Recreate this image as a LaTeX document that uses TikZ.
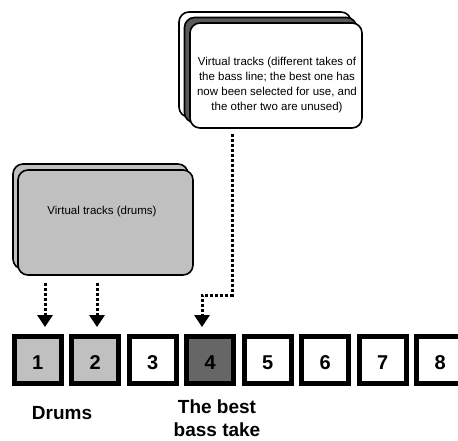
\documentclass[tikz,border=0pt]{standalone}
\usepackage{fontspec}
\setmainfont{Liberation Sans}
\usetikzlibrary{arrows.meta}
\definecolor{lightg}{HTML}{C0C0C0}
\definecolor{darkg}{HTML}{666666}
\definecolor{midg}{HTML}{5A5A5A}
\tikzset{
 cell/.style={draw=black, line width=5pt, minimum size=47pt, inner sep=0pt, font=\fontsize{20}{20}\selectfont\bfseries, text height=20.5pt, text depth=0pt},
 vbox/.style={draw=black, line width=1.6pt, rounded corners=10pt, minimum width=172pt, minimum height=105pt, inner sep=0pt},
 dbox/.style={vbox, fill=lightg, minimum width=175pt},
 dotarrow/.style={line width=3pt, dash pattern=on 3pt off 2pt, -{Triangle[width=15pt,length=12pt]}},
 lbl/.style={font=\fontsize{19}{23}\selectfont\bfseries, align=center, inner sep=0pt},
 vtext/.style={font=\fontsize{11.5}{14.7}\selectfont, align=center, inner sep=0pt}
}
\begin{document}
\begin{tikzpicture}[x=1pt,y=-1pt]
\useasboundingbox[fill=white] (0,0) rectangle (458,440);
% bass take stack
\node[vbox, fill=white] (bassB) at (265,64.5) {};
\node[vbox, fill=midg] (bassM) at (270.5,70) {};
\node[vbox, fill=white] (bassF) at (276,75.5) {};
\node[vtext] (bassT) at (277,85) {Virtual tracks (different takes of\\the bass line; the best one has\\now been selected for use, and\\the other two are unused)};
% drums stack
\node[dbox] (drumsB) at (100.5,216.5) {};
\node[dbox] (drumsF) at (105.5,222.5) {};
\node[vtext] (drumsT) at (102,212) {Virtual tracks (drums)};
% track cells
\node[cell, fill=lightg] (c1) at (37.7,359.5) {1};
\node[cell, fill=lightg] (c2) at (95.2,359.5) {2};
\node[cell, fill=white] (c3) at (152.7,359.5) {3};
\node[cell, fill=darkg] (c4) at (210.2,359.5) {4};
\node[cell, fill=white] (c5) at (267.7,359.5) {5};
\node[cell, fill=white] (c6) at (325.2,359.5) {6};
\node[cell, fill=white] (c7) at (382.7,359.5) {7};
\node[cell, fill=white] (c8) at (440.2,359.5) {8};
% labels
\node[lbl, anchor=base] (ldrums) at (62,419) {Drums};
\node[lbl, anchor=north] (lbass) at (217,399.5) {The best\\bass take};
% connectors
\coordinate (t1) at (45,327);
\coordinate (t2) at (97,327);
\coordinate (bend) at (232,295);
\coordinate (t4) at (202,327);
\draw[dotarrow, shorten <=7pt] (drumsF.south -| t1) -- (t1);
\draw[dotarrow, shorten <=7pt] (drumsF.south -| t2) -- (t2);
\draw[dotarrow, shorten <=5pt] (bassF.south -| bend) -- (bend) -| (t4);
\end{tikzpicture}
\end{document}
